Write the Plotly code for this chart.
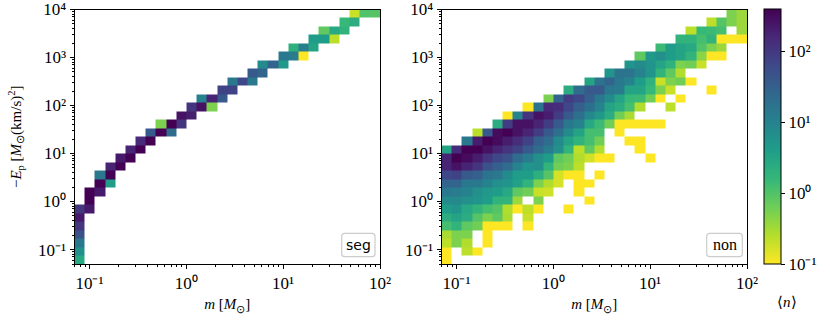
import numpy as np
import plotly.graph_objects as go

N = None

# bin edges of both histograms
m_edges = np.logspace(np.log10(0.07), 2, 31)
e_edges = np.logspace(np.log10(0.05), 4, 31)

# seg panel: column, row, log10<n> of each filled bin
seg_col = [0, 0, 0, 0, 0, 0, 0, 1, 1, 1, 2, 2, 2, 3, 3, 3, 4, 4, 5, 5, 6, 6, 7, 7, 8, 8, 9, 9, 10, 10,
           11, 11, 12, 12, 13, 13, 14, 14, 15, 15, 16, 17, 17, 18, 18, 19, 20, 20, 21, 21, 22, 22, 23, 23,
           24, 24, 25, 25, 26, 26, 27, 27, 28, 29]
seg_row = [0, 1, 2, 3, 4, 5, 6, 6, 7, 8, 8, 9, 10, 9, 10, 11, 11, 12, 12, 13, 13, 14, 14, 15, 15, 16, 15, 16, 16, 17,
           17, 18, 18, 19, 18, 19, 19, 20, 20, 21, 21, 21, 22, 22, 23, 23, 23, 24, 24, 25, 24, 25, 25, 26,
           26, 27, 26, 27, 27, 28, 28, 29, 29, 29]
seg_logn = [.44, .8, 1.16, 1.7, 2.06, 2.35, 2.06, 2.35, 2.6, 2.6, 2.35, 2.6, 1.16, .62, 2.6, 2.24, 2.6, 2.35, 2.6, 2.24,
            2.6, 2.17, 2.6, 1.59, 2.6, -.28, 1.34, 2.6, 2.06, 2.42, 2.31, 2.06, 2.42, .98, -.28, 2.24, 1.59, 1.88,
            1.88, 1.16, 1.81, 1.16, 1.59, 1.45, .87, 1.45, .69, 1.16, 1.09, .33, -1, 1.05, .51, .62,
            .62, -.1, -.64, .44, .26, .19, .37, -.71, .01, -.03]

# non panel: log10<n> by row (bottom to top), starting at the first column
non_rows = [
    [-1],
    [-1, N, -.64, -1],
    [-.64, -.28, -.57, N, -1],
    [-.53, -.28, -.28, N, -1],
    [.08, .26, -.1, -.21, -1, -1, -1, N, -1],
    [.37, .51, .37, -.03, -.28, -.1, -.53, N, -.71],
    [.62, .73, .44, .26, .08, -.03, -.57, -1, -.64, -1, N, N, -1],
    [.87, .91, .8, .73, .62, .26, .26, -.46, N, -.28, N, N, N, N, -1],
    [1.16, 1.09, .98, .8, .69, .62, .44, -.1, -.21, -.71, -.75, N, N, -1],
    [1.45, 1.45, 1.16, 1.16, .98, .8, .73, .55, .26, -.28, -.57, -.78, N, -1, -1],
    [1.81, 1.88, 1.59, 1.52, 1.23, 1.16, .87, .62, .62, .33, -.03, -.78, -1, -1, N, -1],
    [2.24, 2.42, 2.24, 2.06, 1.7, 1.52, 1.34, .98, .73, .8, .26, -.21, -.28, -.64],
    [2.24, 2.6, 2.49, 2.31, 2.06, 1.81, 1.7, 1.34, 1.09, .8, .62, -.1, -.21, -.57, -.75, -1, -1, N, N, N, -1],
    [.51, 2.17, 2.6, 2.6, 2.42, 2.24, 2.06, 1.88, 1.59, 1.34, 1.09, .8, .26, -.64, -.1, -.57, N, N, N, -1],
    [N, N, 1.16, 2.31, 2.6, 2.49, 2.31, 2.13, 1.88, 1.52, 1.34, .87, .51, .26, .08, -.21, N, N, -1, -1],
    [N, N, N, -.64, 1.59, 2.49, 2.6, 2.42, 2.24, 1.95, 1.59, 1.27, .87, .51, .08, .08, N, -1],
    [N, N, N, N, N, .37, 1.95, 2.42, 2.42, 2.24, 1.95, 1.59, 1.16, .98, .44, .15, -.21, -1, -1, -1, -1, -1],
    [N, N, N, N, N, N, -1, .98, 2.06, 2.42, 2.31, 1.95, 1.59, 1.27, .91, .69, .37, -.21, -.53],
    [N, N, N, N, N, N, N, N, -1, 1.23, 2.17, 2.13, 1.81, 1.52, 1.27, .98, .51, .37, .08, -.57, N, N, -.64],
    [N, N, N, N, N, N, N, N, N, N, -.28, 1.45, 1.95, 1.81, 1.52, 1.16, .87, .51, .19, .15, -.21, -1, N, -1],
    [N, N, N, N, N, N, N, N, N, N, N, N, .37, 1.34, 1.59, 1.59, 1.16, 1.09, .51, .51, .19, -.28, -.71, N, N, N, -1],
    [N, N, N, N, N, N, N, N, N, N, N, N, N, N, .51, 1.23, 1.45, 1.16, .98, .62, .3, -.71, -.28, -.21, -1],
    [N, N, N, N, N, N, N, N, N, N, N, N, N, N, N, N, .73, 1.23, 1.23, .98, .73, .26, -.1, -.57],
    [N, N, N, N, N, N, N, N, N, N, N, N, N, N, N, N, N, N, .73, .87, .73, .51, .3, -.28, -.21, -.71],
    [N, N, N, N, N, N, N, N, N, N, N, N, N, N, N, N, N, N, N, -.1, .69, .8, .62, .51, .26, -.35, -1, -1],
    [N, N, N, N, N, N, N, N, N, N, N, N, N, N, N, N, N, N, N, N, N, .15, .62, .51, .44, .01, -.28, -.46],
    [N, N, N, N, N, N, N, N, N, N, N, N, N, N, N, N, N, N, N, N, N, N, N, .26, .26, .08, .26, -1, -1, -1],
    [N, N, N, N, N, N, N, N, N, N, N, N, N, N, N, N, N, N, N, N, N, N, N, N, -.64, .19, .15, .08, N, -.46],
    [N, N, N, N, N, N, N, N, N, N, N, N, N, N, N, N, N, N, N, N, N, N, N, N, N, N, -.64, -.03, -.28, -.46],
    [N, N, N, N, N, N, N, N, N, N, N, N, N, N, N, N, N, N, N, N, N, N, N, N, N, N, N, N, -.28, -.46],
]

m_ticks = [0.1, 1, 10, 100]
m_labels = ["10⁻¹", "10⁰", "10¹", "10²"]
e_ticks = [0.1, 1, 10, 100, 1000, 10000]
e_labels = ["10⁻¹", "10⁰", "10¹", "10²", "10³", "10⁴"]
cbar_ticks = [-1, 0, 1, 2]
cbar_labels = ["10⁻¹", "10⁰", "10¹", "10²"]

W, H = 830, 322
SERIF = "Liberation Serif"

seg = np.full((30, 30), np.nan)
for c, r, v in zip(seg_col, seg_row, seg_logn):
    seg[r, c] = v

non = np.full((30, 30), np.nan)
for r, row in enumerate(non_rows):
    for c, v in enumerate(row):
        if v is not None:
            non[r, c] = v


def hist(z, xa, ya, show):
    return go.Heatmap(
        x=m_edges, y=e_edges, z=z, xaxis=xa, yaxis=ya,
        colorscale="Viridis", reversescale=True, zmin=-1, zmax=2.6,
        showscale=show, hoverongaps=False,
        colorbar=dict(
            x=763.5 / W, xanchor="left", xpad=0, thickness=17, thicknessmode="pixels",
            y=1 - 264 / H, yanchor="bottom", ypad=0, len=254.5 / H, lenmode="fraction",
            outlinecolor="black", outlinewidth=1,
            tickmode="array", tickvals=cbar_ticks, ticktext=cbar_labels,
            ticks="outside", ticklen=4, tickwidth=0.8, tickcolor="black",
            tickfont=dict(family=SERIF, size=17, color="black"),
        ),
    )


def rounded_box(x0, y0, x1, y1, r=3):
    # path in paper fractions from pixel corners
    px = lambda v: f"{v / W:.5f}"
    py = lambda v: f"{1 - v / H:.5f}"
    path = (f"M {px(x0 + r)} {py(y0)} L {px(x1 - r)} {py(y0)} Q {px(x1)} {py(y0)} {px(x1)} {py(y0 + r)} "
            f"L {px(x1)} {py(y1 - r)} Q {px(x1)} {py(y1)} {px(x1 - r)} {py(y1)} "
            f"L {px(x0 + r)} {py(y1)} Q {px(x0)} {py(y1)} {px(x0)} {py(y1 - r)} "
            f"L {px(x0)} {py(y0 + r)} Q {px(x0)} {py(y0)} {px(x0 + r)} {py(y0)} Z")
    return dict(type="path", path=path, xref="paper", yref="paper", layer="above",
                fillcolor="white", line=dict(color="#cccccc", width=1.2))


fig = go.Figure()
fig.add_trace(hist(seg, "x", "y", False))
fig.add_trace(hist(non, "x2", "y2", True))

minor = dict(dtick="D1", ticks="outside", ticklen=2, tickwidth=0.6, tickcolor="black", showgrid=False)

xstyle = dict(
    type="log", range=[np.log10(0.07), 2], automargin=False,
    tickmode="array", tickvals=m_ticks, ticktext=m_labels,
    ticks="outside", ticklen=4, tickwidth=0.8, tickcolor="black",
    tickfont=dict(family=SERIF, size=17, color="black"),
    showline=True, linecolor="black", linewidth=1, mirror=True,
    showgrid=False, zeroline=False, minor=minor,
    title=dict(text="<i>m</i> [<i>M</i><sub>⊙</sub>]", standoff=6,
               font=dict(family=SERIF, size=15, color="black")),
)
ystyle = dict(
    type="log", range=[np.log10(0.05), 4], automargin=False,
    tickmode="array", tickvals=e_ticks, ticktext=e_labels, ticklabeloverflow="allow",
    ticks="outside", ticklen=4, tickwidth=0.8, tickcolor="black",
    tickfont=dict(family=SERIF, size=17, color="black"),
    showline=True, linecolor="black", linewidth=1, mirror=True,
    showgrid=False, zeroline=False, minor=minor,
)

y_dom = [1 - 264 / H, 1 - 9.5 / H]
fig.update_layout(
    width=W, height=H, margin=dict(l=0, r=0, t=0, b=0),
    paper_bgcolor="white", plot_bgcolor="white", showlegend=False,
    xaxis=dict(xstyle, domain=[74.5 / W, 380 / W], anchor="y"),
    xaxis2=dict(xstyle, domain=[441.5 / W, 747 / W], anchor="y2"),
    yaxis=dict(ystyle, domain=y_dom, anchor="x",
               title=dict(text="−<i>E</i><sub>p</sub> [<i>M</i><sub>⊙</sub>(km/s)<sup>2</sup>]", standoff=12,
                          font=dict(family=SERIF, size=15, color="black"))),
    yaxis2=dict(ystyle, domain=y_dom, anchor="x2"),
    # empty axis that only carries the colorbar's minor ticks
    xaxis3=dict(domain=[763.5 / W, 780.5 / W], anchor="y3", visible=False, automargin=False),
    yaxis3=dict(type="log", range=[-1, 2.6], domain=y_dom, anchor="x3", side="right", automargin=False,
                showline=False, showgrid=False, zeroline=False, showticklabels=False,
                tickmode="array", tickvals=[], ticks="",
                minor=dict(minor, ticklen=3)),
    shapes=[rounded_box(341.7, 233.3, 375, 256.7), rounded_box(706.7, 233.3, 742.3, 256.7)],
    annotations=[
        dict(text="seg", x=358.5 / W, y=1 - 244.5 / H, xref="paper", yref="paper", showarrow=False,
             xanchor="center", yanchor="middle", font=dict(family="DejaVu Sans", size=14, color="black")),
        dict(text="non", x=724.5 / W, y=1 - 244.5 / H, xref="paper", yref="paper", showarrow=False,
             xanchor="center", yanchor="middle", font=dict(family=SERIF, size=16, color="black")),
        dict(text="⟨<i>n</i>⟩", x=787 / W, y=1 - 302 / H, xref="paper", yref="paper", showarrow=False,
             xanchor="center", yanchor="middle", font=dict(family=SERIF, size=15, color="black")),
    ],
)

fig.write_html("out.html", config=dict(displayModeBar=False), post_script="document.body.style.margin='0';")
